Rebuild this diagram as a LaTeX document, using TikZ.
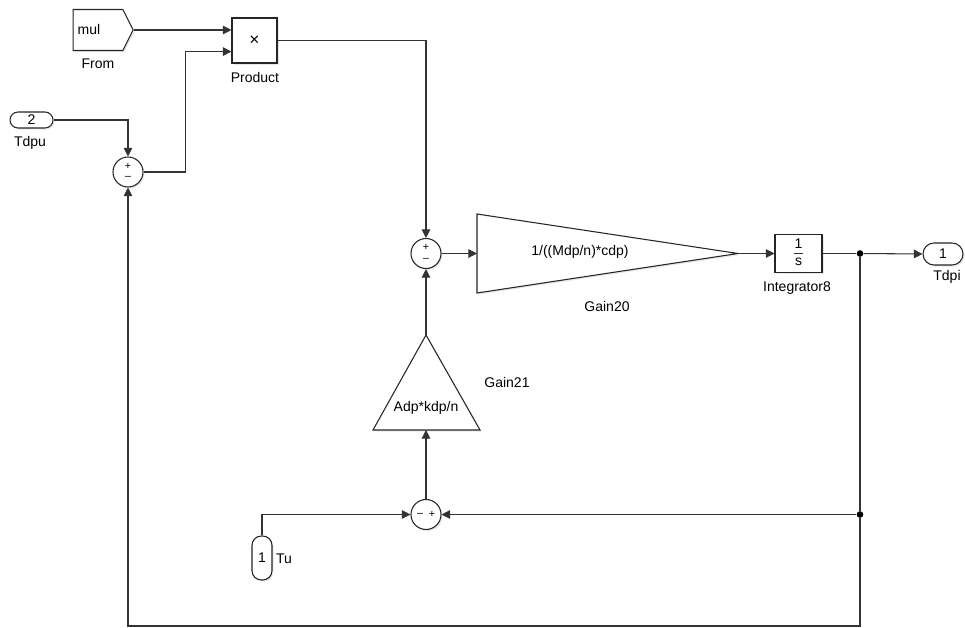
\documentclass[tikz,border=0pt]{standalone}
\usepackage{fontspec}
\setmainfont{Liberation Sans}
\usetikzlibrary{arrows.meta,shapes.symbols,shapes.misc,shadows}
\begin{document}
\begin{tikzpicture}[x=0.75pt,y=-0.75pt,
  font=\fontsize{10.5}{12}\selectfont,
  line/.style={draw=black!80, line width=0.8pt},
  arr/.style={line, -{Triangle[length=6.5pt,width=6.5pt]}},
  blk/.style={draw=black!85, line width=0.8pt, fill=white, inner sep=0pt,
    drop shadow={opacity=0.18, shadow xshift=1.2pt, shadow yshift=-1.2pt}},
  sumblk/.style={blk, circle, minimum size=22.5pt},
  sgn/.style={font=\fontsize{8}{9}\selectfont, inner sep=0pt},
  lbl/.style={inner sep=0pt},
  dotj/.style={circle, fill=black, inner sep=0pt, minimum size=5pt}]
\useasboundingbox (0,0) rectangle (965,628);

% blocks
\node[blk, signal, signal to=east, signal pointer angle=127,
      minimum width=45pt, minimum height=30.75pt] (from) at (98,30) {};
\node[lbl] (fromtxt) at (89,29) {mul};
\node[lbl] (fromlbl) at (98,64) {From};

\node[blk, minimum size=33.75pt] (prod) at (254.5,40.5) {};
\node[lbl, font=\fontsize{13}{14}\selectfont] (prodtxt) at (254.5,40.5) {×};
\node[lbl] (prodlbl) at (255,77) {Product};

\node[blk, rounded rectangle, minimum width=32.25pt, minimum height=12pt] (tdpu) at (31.5,120) {2};
\node[lbl] (tdpulbl) at (30,143) {Tdpu};

\node[sumblk] (sum1) at (128,172) {};
\node[sgn] at ([yshift=4.5pt]sum1.center) {+};
\node[sgn] at ([yshift=-4.5pt]sum1.center) {–};

\node[sumblk] (sum2) at (426,253.5) {};
\node[sgn] at ([yshift=4.5pt]sum2.center) {+};
\node[sgn] at ([yshift=-4.5pt]sum2.center) {–};

% Gain20 triangle
\draw[blk] (477,214) -- (477,293) -- (738,253.5) -- cycle;
\coordinate (g20in) at (477,253.5);
\coordinate (g20out) at (738,253.5);
\node[lbl] (g20txt) at (580,252) {1/((Mdp/n)*cdp)};
\node[lbl] (g20lbl) at (607,306) {Gain20};

% Gain21 triangle
\draw[blk] (426,335) -- (480,430) -- (373,430) -- cycle;
\coordinate (g21out) at (426,335);
\coordinate (g21in) at (426,430);
\node[lbl] (g21txt) at (426,408) {Adp*kdp/n};
\node[lbl] (g21lbl) at (507,382) {Gain21};

% Integrator
\node[blk, minimum width=35.25pt, minimum height=28.5pt] (integ) at (798.5,253.5) {};
\node[lbl] (int1) at (798.5,243.5) {1};
\draw[line, line width=0.6pt] ([xshift=-3.5pt]integ.center) -- ([xshift=3.5pt]integ.center);
\node[lbl] (ints) at (798.5,262) {s};
\node[lbl] (intlbl) at (797,288) {Integrator8};

\node[blk, rounded rectangle, minimum width=30pt, minimum height=16.5pt] (tdpi) at (943,254) {1};
\node[lbl] (tdpilbl) at (947,277) {Tdpi};

\node[sumblk] (sum3) at (426,514.5) {};
\node[sgn] at ([xshift=-4.5pt]sum3.center) {–};
\node[sgn] at ([xshift=4.5pt]sum3.center) {+};

\node[blk, rectangle, rounded corners=7pt, minimum width=15pt, minimum height=33pt] (tu) at (262,558) {1};
\node[lbl] (tulbl) at (284,559) {Tu};

% junctions
\node[dotj] (j1) at (860,253.5) {};
\node[dotj] (j2) at (860,514.5) {};
\coordinate (cbr) at (860,626);

% connectors
\draw[arr] (from.east) -- (prod.west |- from.east);
\draw[arr] (sum1.east) -- ++(42,0) |- ([yshift=-8.3pt]prod.west);
\draw[arr] (tdpu.east) -| (sum1.north);
\draw[arr] (prod.east) -| (sum2.north);
\draw[arr] (sum2.east) -- (g20in);
\draw[arr] (g20out) -- (integ.west);
\draw[line] (integ.east) -- (j1);
\draw[arr] (j1) -- (tdpi.west);
\draw[line] (j1) -- (j2);
\draw[arr] (j2) -- (sum3.east);
\draw[arr] (j2) -- (cbr) -| (sum1.south);
\draw[arr] (tu.north) |- (sum3.west);
\draw[arr] (sum3.north) -- (g21in);
\draw[arr] (g21out) -- (sum2.south);
\end{tikzpicture}
\end{document}
